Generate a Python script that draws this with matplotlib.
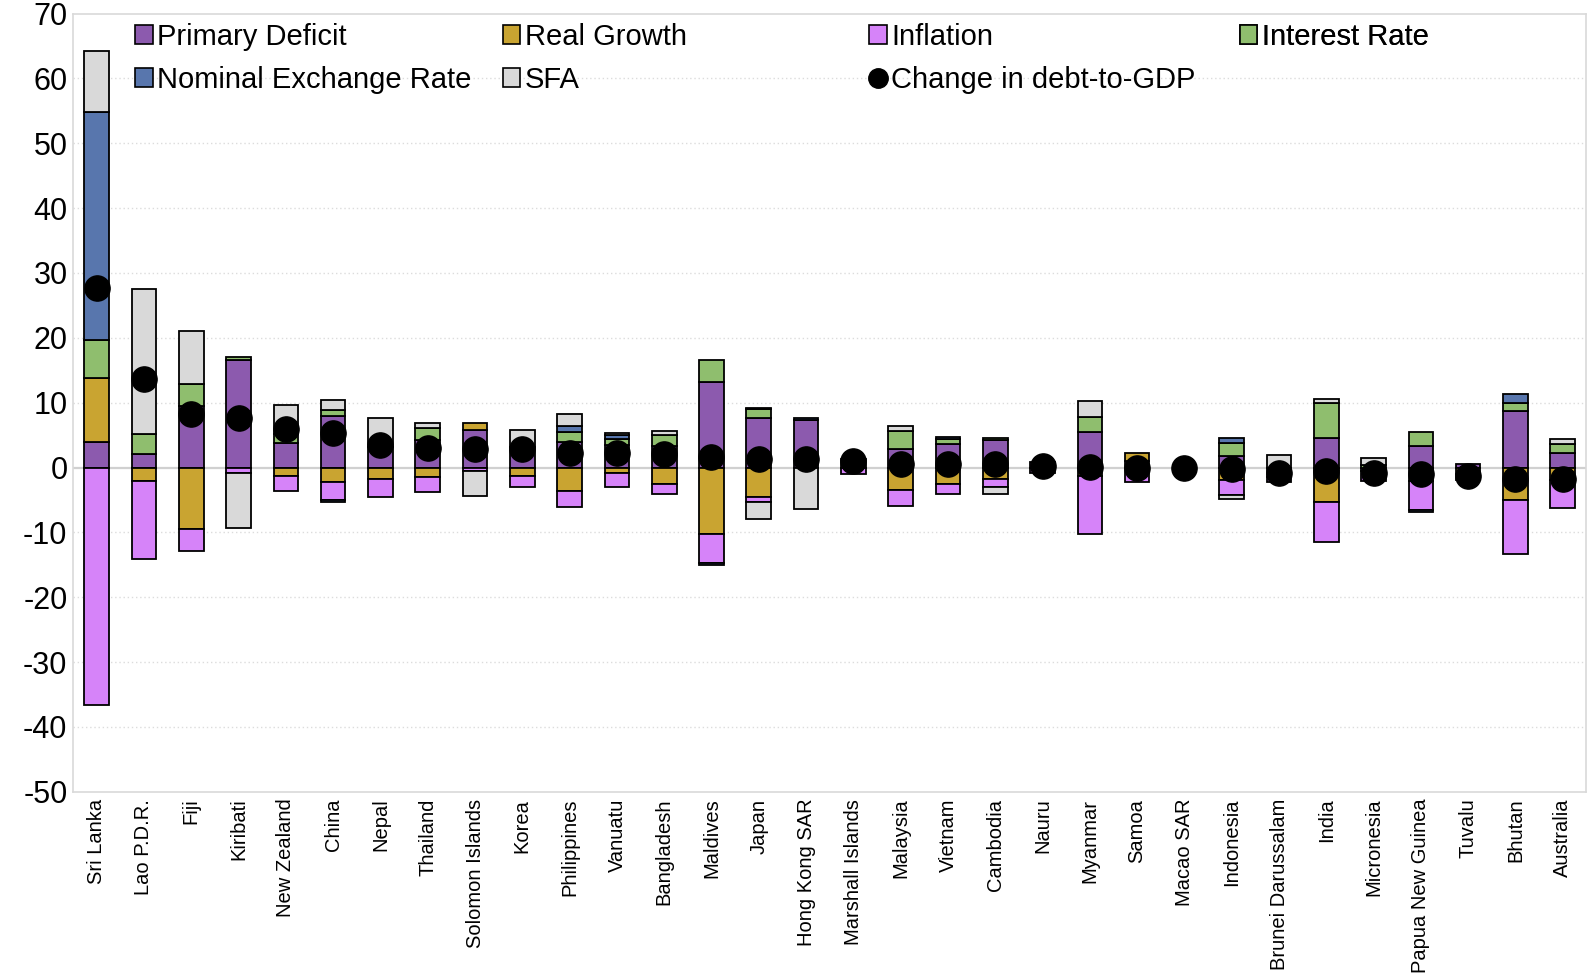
import matplotlib
matplotlib.use("Agg")
import matplotlib.pyplot as plt
from matplotlib.patches import Patch
from matplotlib.lines import Line2D
import numpy as np

plt.rcParams["font.family"] = ["Liberation Sans", "DejaVu Sans"]
plt.rcParams["axes.unicode_minus"] = False

countries = ["Sri Lanka", "Lao P.D.R.", "Fiji", "Kiribati", "New Zealand", "China", "Nepal",
             "Thailand", "Solomon Islands", "Korea", "Philippines", "Vanuatu", "Bangladesh",
             "Maldives", "Japan", "Hong Kong SAR", "Marshall Islands", "Malaysia", "Vietnam",
             "Cambodia", "Nauru", "Myanmar", "Samoa", "Macao SAR", "Indonesia",
             "Brunei Darussalam", "India", "Micronesia", "Papua New Guinea", "Tuvalu",
             "Bhutan", "Australia"]

primary_deficit = [4.0, 2.1, 9.5, 16.6, 3.8, 7.9, 3.2, 4.3, 5.85, 3.2, 4.0, 3.5, 3.35, 13.25,
                   7.7, 7.4, 1.3, 2.85, 3.6, 4.3, 0.8, 5.45, 1.0, 0.0, 1.85, -1.5, 4.55, -0.5,
                   3.35, 0.6, 8.7, 2.25]
real_growth = [9.8, -2.1, -9.5, 0.0, -1.3, -2.3, -1.75, -1.5, 1.0, -1.3, -3.6, -0.8, -2.5, -10.25,
               -4.5, 0.0, 0.0, -3.45, -2.5, -1.75, 0.0, -1.3, 1.3, 0.0, -1.9, 0.0, -5.3, 0.0,
               -2.15, -1.0, -5.0, -1.9]
inflation = [-36.6, -12.0, -3.3, -0.9, -2.3, -2.7, -2.85, -2.3, -0.5, -1.7, -2.45, -2.25, -1.6,
             -4.55, -0.8, 0.0, -1.0, -2.45, -1.6, -1.2, -0.8, -8.9, -2.3, 0.0, -2.35, -0.8,
             -6.2, -1.6, -4.4, -1.0, -8.3, -4.4]
interest_rate = [5.9, 3.0, 3.4, 0.5, 1.3, 1.0, 0.0, 1.8, 0.0, 0.0, 1.45, 0.9, 1.7, 3.35, 1.3, 0.0,
                 0.0, 2.85, 0.8, 0.3, 0.0, 2.35, 0.0, 0.0, 2.0, 0.0, 5.45, 0.45, 2.2, 0.0, 1.2,
                 1.45]
exchange_rate = [35.1, 0.0, 0.0, 0.0, 0.0, -0.3, 0.0, 0.0, 0.0, 0.0, 0.95, 0.6, 0.0, -0.3, 0.2,
                 0.3, 0.0, 0.0, 0.3, 0.0, 0.0, 0.0, 0.0, 0.0, 0.7, 0.0, 0.0, 0.0, -0.3, 0.0,
                 1.45, 0.0]
sfa = [9.4, 22.4, 8.1, -8.5, 4.5, 1.55, 4.5, 0.8, -3.85, 2.65, 1.8, 0.3, 0.6, 0.0, -2.65, -6.4,
       0.0, 0.65, 0.0, -1.15, 0.0, 2.45, 0.0, 0.0, -0.6, 1.9, 0.5, 1.0, 0.0, 0.0, 0.0, 0.75]
debt_change = [27.7, 13.6, 8.2, 7.7, 5.9, 5.4, 3.4, 3.0, 2.85, 2.85, 2.3, 2.3, 2.1, 1.6, 1.3, 1.3,
               1.0, 0.5, 0.5, 0.5, 0.3, 0.05, 0.0, 0.0, -0.25, -0.8, -0.6, -0.8, -1.0, -1.3,
               -1.8, -1.8]

series = [
    ("Primary Deficit", primary_deficit, "#8c5aae"),
    ("Real Growth", real_growth, "#c9a431"),
    ("Inflation", inflation, "#d683f9"),
    ("Interest Rate", interest_rate, "#8fbe6e"),
    ("Nominal Exchange Rate", exchange_rate, "#5876ad"),
    ("SFA", sfa, "#d9d9d9"),
]

fig = plt.figure(figsize=(15.88, 9.75), dpi=100)
ax = fig.add_axes([0.046, 0.188, 0.953, 0.798])

x = np.arange(len(countries))
pos_base = np.zeros(len(countries))
neg_base = np.zeros(len(countries))
for name, vals, color in series:
    v = np.array(vals, dtype=float)
    bottom = np.where(v >= 0, pos_base, neg_base)
    lw = np.where(v == 0, 0.0, 1.3)
    ax.bar(x, v, width=0.52, bottom=bottom, color=color, edgecolor="black",
           linewidth=lw, zorder=3)
    pos_base += np.where(v > 0, v, 0)
    neg_base += np.where(v < 0, v, 0)

ax.scatter(x, debt_change, s=330, color="black", zorder=4)

# grid and frame
for yv in range(-40, 70, 10):
    if yv == 0:
        continue
    ax.axhline(yv, color="#dcdcdc", linestyle=(0, (1, 2)), linewidth=1.0, zorder=1)
ax.axhline(0, color="#d0d0d0", linewidth=1.6, zorder=2)
for sp in ax.spines.values():
    sp.set_color("#d9d9d9")
    sp.set_linewidth(1.2)

ax.set_xlim(-0.5, len(countries) - 0.5)
ax.set_ylim(-50, 70)
ax.set_yticks(range(-50, 80, 10))
ax.tick_params(axis="y", length=0, labelsize=22, pad=4)
ax.set_xticks(x)
ax.set_xticklabels(countries, rotation=90, fontsize=14.5)
ax.tick_params(axis="x", length=0, pad=5)

# legend laid out as four separate columns
def sq(color):
    return Patch(facecolor=color, edgecolor="black", linewidth=1.2)

columns = [
    ([sq("#8c5aae"), sq("#5876ad")], ["Primary Deficit", "Nominal Exchange Rate"], 0.041),
    ([sq("#c9a431"), sq("#d9d9d9")], ["Real Growth", "SFA"], 0.284),
    ([sq("#d683f9"), Line2D([], [], marker="o", color="black", linestyle="none", markersize=14)],
     ["Inflation", "Change in debt-to-GDP"], 0.526),
    ([sq("#8fbe6e")], ["Interest Rate"], 0.771),
]
for handles, labels, xpos in columns:
    leg = ax.legend(handles, labels, loc="upper left", bbox_to_anchor=(xpos, 0.988),
                    frameon=False, fontsize=21, handlelength=0.6, handleheight=0.6,
                    handletextpad=0.15, labelspacing=0.5, borderpad=0, borderaxespad=0)
    ax.add_artist(leg)

fig.savefig("out.png", dpi=100)
